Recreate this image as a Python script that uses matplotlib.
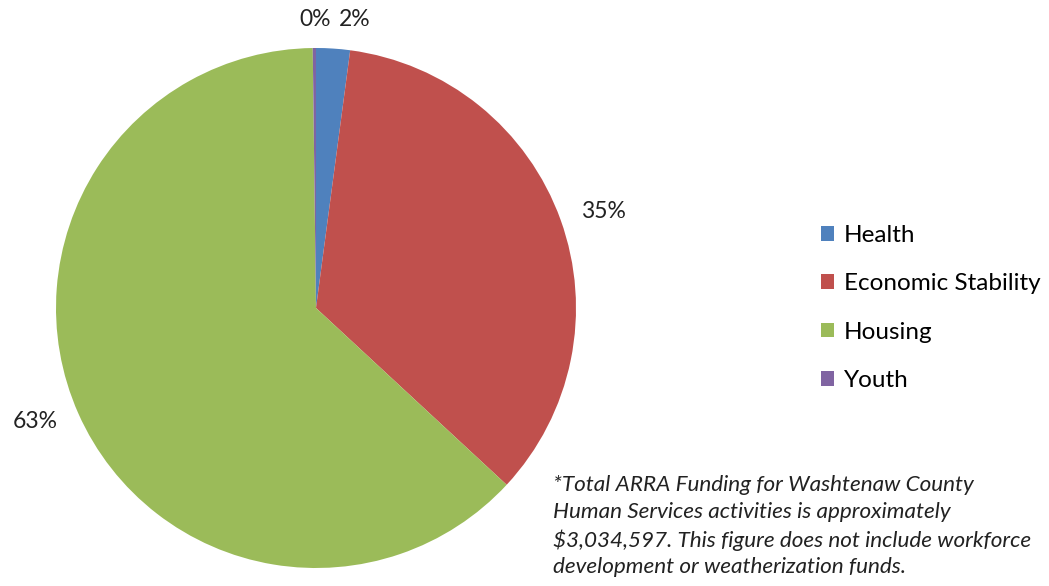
import numpy as np
import matplotlib
matplotlib.use("Agg")
from matplotlib import pyplot as plt

# slice shares (percent of ARRA funding)
categories = ['Health', 'Economic Stability', 'Housing', 'Youth']
shares = [2.1, 34.8, 62.9, 0.2]
labels = ['2%', '35%', '63%', '0%']
colors = ['#4F81BD', '#C0504D', '#9BBB59', '#8064A2']

note = ("*Total ARRA Funding for Washtenaw County\n"
        "Human Services activities is approximately\n"
        "$3,034,597. This figure does not include workforce\n"
        "development or weatherization funds.")

plt.rcParams['font.family'] = ['Lato', 'DejaVu Sans']

fig = plt.figure(figsize=(10.49, 5.86), dpi=100)
ax = fig.add_axes([56 / 1049, 18 / 586, 520 / 1049, 520 / 586])

wedges, texts = ax.pie(shares, colors=colors, startangle=90, counterclock=False,
                       labels=labels, labeldistance=1.17,
                       wedgeprops=dict(linewidth=0),
                       textprops=dict(fontsize=16.5, color='#222222'))
ax.set_xlim(-1, 1)
ax.set_ylim(-1, 1)
ax.set_aspect('equal')

for t in texts:
    t.set_ha('center')
    t.set_va('center')
# label placement as in the Excel original
texts[0].set_position((0.15, 1.108))
texts[1].set_position((1.104, 0.373))
texts[2].set_position((-1.081, -0.438))
texts[3].set_position((-0.005, 1.108))

fig.legend(wedges, categories, loc='center left',
           bbox_to_anchor=(799 / 1049, 1 - 308 / 586),
           frameon=False, fontsize=17.5, labelspacing=1.13,
           handlelength=0.55, handleheight=0.55, handletextpad=0.4)

fig.text(553 / 1049, 1 - 475 / 586, note, ha='left', va='top',
         fontsize=16.2, style='italic', color='#222222', linespacing=1.42)

fig.savefig('out.png', dpi=100)
